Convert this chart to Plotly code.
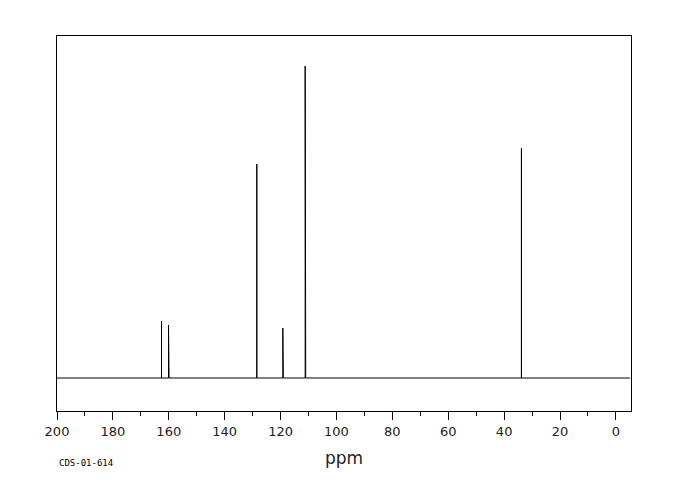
import plotly.graph_objects as go

# Peak positions (ppm) and heights (arbitrary intensity units)
peak_ppm = [162.6, 162.4, 160.1, 159.9, 128.5, 119.2, 119.0, 111.2, 111.0, 33.8]
peak_height = [57, 55, 53, 52, 214, 50, 25, 312, 153, 230]
x_start, x_end = 205.0, -5.0

xs = [x_start]
ys = [0]
for p, h in sorted(zip(peak_ppm, peak_height), key=lambda t: -t[0]):
    xs += [p, p, p]
    ys += [0, h, 0]
xs.append(x_end)
ys.append(0)

fig = go.Figure()
fig.add_trace(go.Scatter(x=xs, y=ys, mode="lines",
                         line=dict(color="black", width=1),
                         hoverinfo="skip", showlegend=False))

# page body has 8px default margin; compensate
W, H = 672, 492
ml, mr, mt, mb = 49, 49, 28, 89
fig.update_layout(
    width=W, height=H,
    margin=dict(l=ml, r=mr, t=mt, b=mb),
    paper_bgcolor="white", plot_bgcolor="white",
    xaxis=dict(range=[200, -5.4], showgrid=False, zeroline=False,
               showline=True, linecolor="black", linewidth=1, mirror=True,
               ticks="outside", ticklen=8, tickcolor="black", tickwidth=1,
               dtick=20, tick0=0,
               minor=dict(dtick=10, ticks="outside", ticklen=4, tickcolor="black", showgrid=False),
               tickfont=dict(family="DejaVu Sans", size=13, color="#222"),
               title=dict(text="ppm", font=dict(family="DejaVu Sans", size=17, color="#222"),
                          standoff=14)),
    yaxis=dict(range=[-33, 342], showgrid=False, zeroline=False,
               showline=True, linecolor="black", linewidth=1, mirror=True,
               showticklabels=False, ticks=""),
)
plot_w = W - ml - mr
plot_h = H - mt - mb
fig.add_annotation(text="CDS-01-614", x=0, y=-52 / plot_h, xref="paper", yref="paper",
                   showarrow=False, xanchor="left", yanchor="middle",
                   font=dict(family="DejaVu Sans Mono", size=9, color="black"))

fig.write_html("out.html")
